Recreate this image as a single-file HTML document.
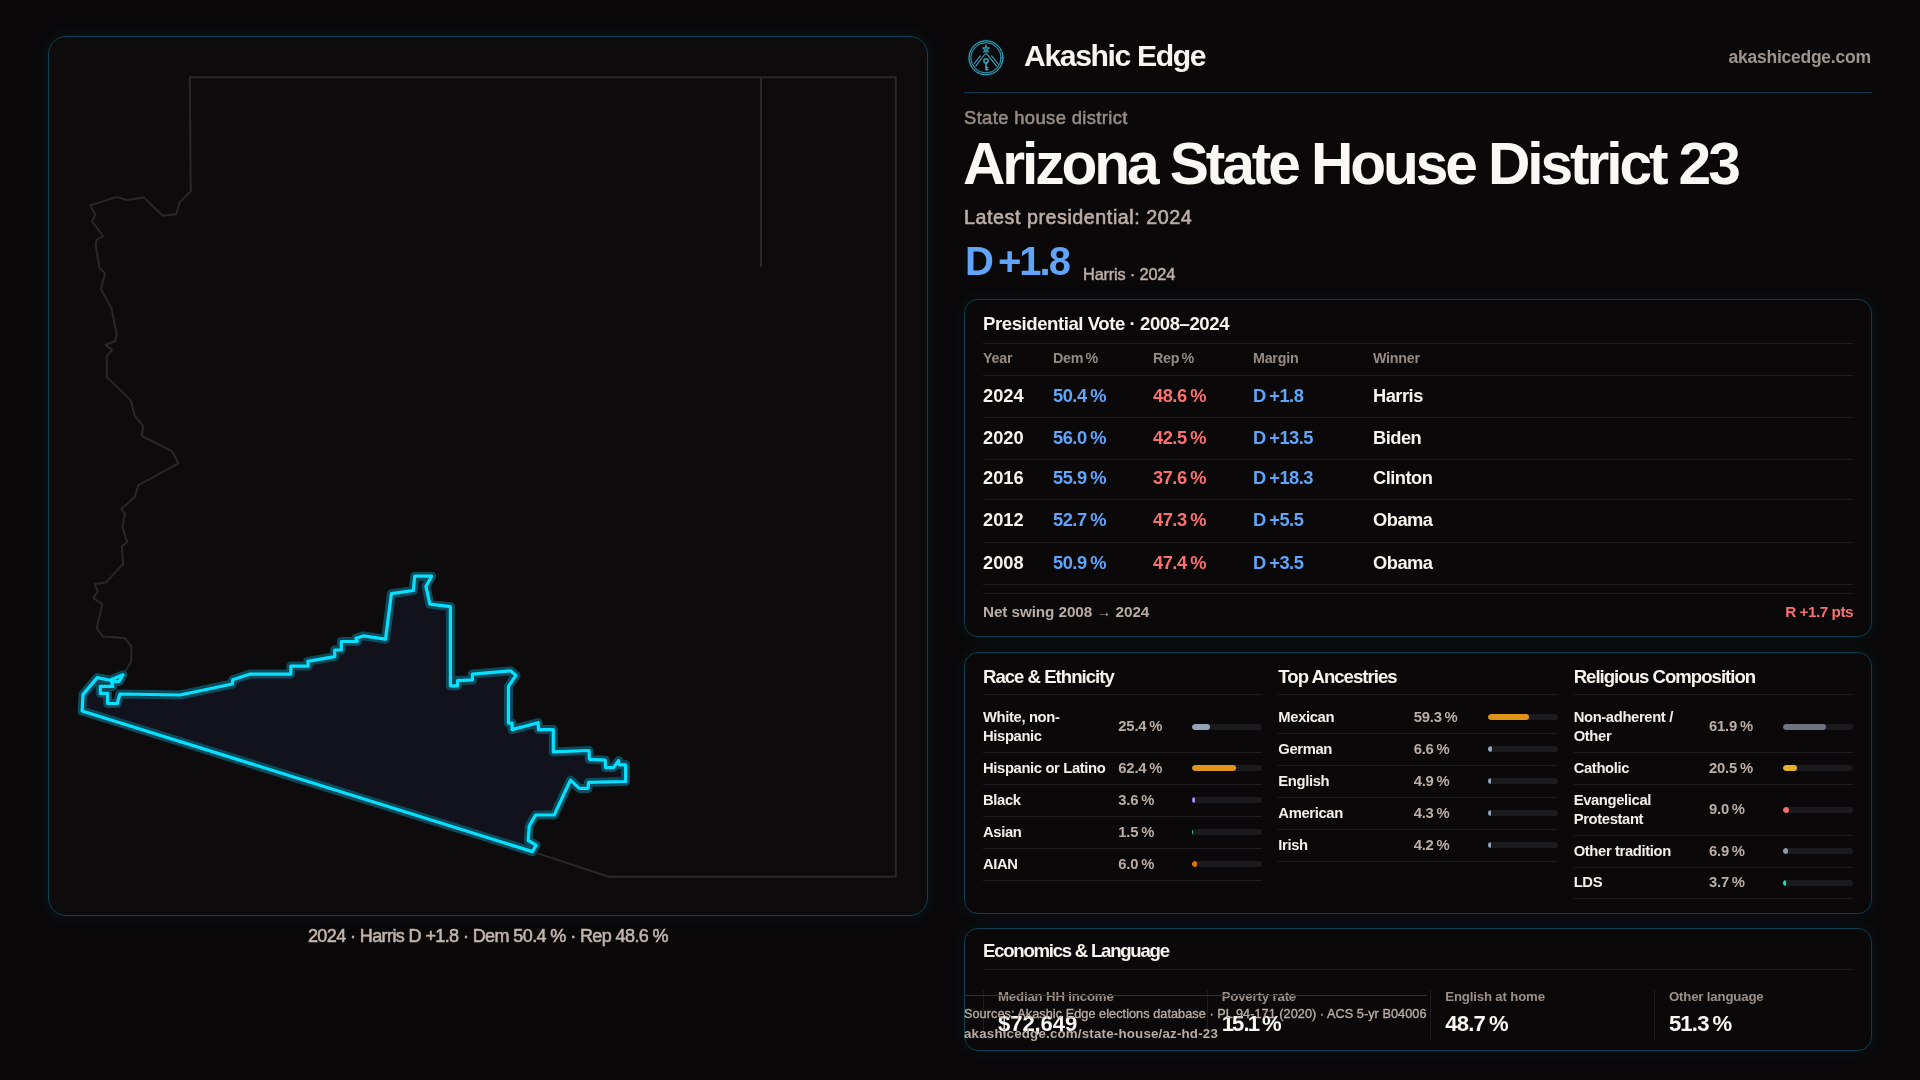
<!DOCTYPE html>
<html lang="en">
<head>
<meta charset="utf-8">
<title>Arizona State House District 23 — Akashic Edge</title>
<style>
*{box-sizing:border-box;margin:0;padding:0}
html,body{width:1920px;height:1080px;overflow:hidden;background:#0a0809}
body{position:relative;font-family:"Liberation Sans",Arial,sans-serif;color:#f5f2ee;-webkit-font-smoothing:antialiased}
.abs{position:absolute;white-space:nowrap;line-height:1}
#wrap{position:absolute;left:0;top:0;width:1920px;height:1080px;will-change:transform}
/* map panel */
#map{position:absolute;left:48px;top:36px;width:880px;height:880px;border:1px solid #0f4351;border-radius:18px;background:#0d0b0c;box-shadow:0 0 20px rgba(0,200,235,.075)}
#geo{position:absolute;left:0;top:0;width:1920px;height:1080px;overflow:visible}
#cap{left:188px;width:600px;text-align:center;top:927.4px;font-size:18px;color:#c2b5ad;letter-spacing:-.6px;-webkit-text-stroke:.55px #c2b5ad}
/* header */
#brand{left:1024px;top:40.5px;font-size:30.2px;font-weight:700;color:#f7f4f0;letter-spacing:-1.4px}
#site{right:49.3px;top:48.8px;font-size:17.5px;color:#9f948e;font-weight:700;letter-spacing:-.25px}
#hline{position:absolute;left:964px;top:92px;width:908px;height:1px;background:#0e3d49}
#kind{left:964px;top:108.5px;font-size:18.4px;color:#968b85;letter-spacing:.37px;-webkit-text-stroke:.55px #968b85}
#title{left:963px;top:134.5px;font-size:58.7px;font-weight:700;color:#faf8f5;letter-spacing:-3.1px}
#latest{left:964px;top:207.7px;font-size:19.7px;color:#bcaea6;letter-spacing:.55px;-webkit-text-stroke:.6px #bcaea6}
#margin{left:965px;top:240.8px;font-size:40px;color:#60a5fa;font-weight:700;letter-spacing:-2px;word-spacing:-3px}
#who{left:1083px;top:265.8px;font-size:16.4px;color:#bfb2aa;letter-spacing:-.2px;-webkit-text-stroke:.45px #bfb2aa}
/* cards */
.card{position:absolute;left:964px;width:908px;border:1px solid #0f3f4c;border-radius:14px;background:#0a0809;box-shadow:0 0 18px rgba(0,200,235,.075)}

/* card 1 : presidential table */
#c1{padding:0 18px}
#c1 .ttl{height:44px;border-bottom:1px solid #1d1b1d;font-size:18.6px;font-weight:700;color:#f7f4f0;line-height:20px;padding-top:14.4px;white-space:nowrap;letter-spacing:-.45px}
.trow{display:flex;border-bottom:1px solid #1d1b1d;white-space:nowrap}
.trow span{display:block}
.trow .y{width:70px}.trow .d{width:100px}.trow .r{width:100px}.trow .m{width:120px}.trow .w{flex:1}
.thead{word-spacing:-1.5px;height:32px;line-height:16px;padding-top:6.3px;font-size:14.3px;color:#968a84;font-weight:700;letter-spacing:-.25px}
.tbody{word-spacing:-1px;height:42px;font-size:18.3px;font-weight:700;color:#f7f4f0;line-height:20px;padding-top:9.8px;letter-spacing:-.5px}
.tbody .y{letter-spacing:0}
.tbody .d,.tbody .m{color:#60a5fa}
.tbody .r{color:#f87171}
#swing{display:flex;justify-content:space-between;margin-top:8px;border-top:1px solid #1d1b1d;height:43px;line-height:20px;padding-top:7.5px;font-size:15.3px;color:#b8aba4;font-weight:700;white-space:nowrap;letter-spacing:-.1px}
#swing b{color:#f87171;letter-spacing:-.5px}
/* card 2 : three columns */
#c2{padding:0 18px;display:flex;gap:16px}
.col{flex:1 1 0;min-width:0}
.col .ttl{height:42px;border-bottom:1px solid #1d1b1d;font-size:18.6px;font-weight:700;color:#f7f4f0;line-height:20px;padding-top:13.8px;margin-bottom:7px;white-space:nowrap;letter-spacing:-1px}
.brow{display:grid;grid-template-columns:1fr 66px 70px;column-gap:8px;align-items:center;border-bottom:1px solid #1d1b1d;height:32px;font-size:14.8px;line-height:19px}
.brow.two{height:51px}
.brow .l{font-weight:700;color:#f3efeb;position:relative;top:-.3px;letter-spacing:-.37px;white-space:nowrap}
.brow .v{word-spacing:-1px;color:#bbaea7;font-weight:700;white-space:nowrap;position:relative;top:-.3px;letter-spacing:-.2px}
.bar{display:block;height:6px;border-radius:3px;background:#1b1a1c;position:relative;overflow:hidden;top:-.5px}
.bar i{position:absolute;left:0;top:0;bottom:0;border-radius:3px;display:block}
/* card 3 : economics */
#c3{padding:0 18px}
#c3 .ttl{height:41px;border-bottom:1px solid #1d1b1d;font-size:18.6px;font-weight:700;color:#f7f4f0;line-height:20px;padding-top:12.1px;white-space:nowrap;letter-spacing:-1.25px}
#stats{display:flex;gap:24.5px;margin-top:19.5px}
.stat{flex:1 1 0;height:49.5px;border-left:1px solid #1d1b1d;padding-left:14px;white-space:nowrap}
.stat .k{letter-spacing:-.15px;font-size:13.2px;color:#9c9089;font-weight:700;line-height:16px;padding-top:0;position:relative;top:-.5px}
.one{margin:0 -1.1px}
.stat .n{word-spacing:-1.5px;letter-spacing:-.8px;font-size:22.1px;font-weight:700;color:#faf8f5;line-height:26px;margin-top:5.8px}
/* footer overlay */
#foot{position:absolute;left:964px;top:995px;border-top:1px solid #0e3d49;white-space:nowrap;color:#b9aca4}
#foot .s{font-size:12.7px;line-height:16px;margin-top:10.4px;-webkit-text-stroke:.35px #b9aca4;letter-spacing:.05px}
#foot .u{font-size:13.3px;line-height:18px;margin-top:2.6px;font-weight:700;letter-spacing:.2px}
#logo{position:absolute;left:960px;top:32px;width:52px;height:52px}
</style>
</head>
<body>
<div id="wrap">
<div id="map"></div>
<svg id="geo" viewBox="0 0 1920 1080">
<g fill="none" stroke-linejoin="round" stroke-linecap="round">
<path d="M532.4 851.6 L608.8 876.8 L895.8 876.8 L895.8 77.3 L189.8 77.3 L190.6 180.0 L190.9 190.9 L179.4 202.8 L176.3 214.2 L162.6 215.8 L144.2 197.6 L127.1 200.0 L116.7 196.9 L90.2 205.4 L95.2 214.5 L92.0 221.5 L103.2 236.0 L96.7 239.6 L95.7 244.8 L99.3 267.4 L105.0 273.4 L100.9 288.9 L111.5 308.4 L116.7 334.3 L115.4 341.3 L105.5 344.7 L112.0 349.9 L106.8 355.8 L106.8 377.1 L130.9 400.4 L134.8 416.0 L143.1 425.9 L141.8 436.0 L172.0 451.2 L178.4 463.3 L138.2 485.4 L134.8 497.1 L121.1 509.2 L125.0 513.9 L122.4 526.4 L127.1 541.9 L121.9 546.3 L123.2 564.0 L105.8 582.6 L94.6 583.9 L97.7 591.2 L93.3 598.2 L102.4 604.2 L96.7 628.0 L102.9 636.6 L124.5 637.9 L131.2 646.2 L131.2 661.7 L123.0 674.8" stroke="#2b2728" stroke-width="2"/>
<path d="M761 77.3 L761 266.3" stroke="#2b2728" stroke-width="2"/>
<path d="M82.1 711.0 L83.0 694.6 L97.2 677.6 L109.8 680.2 L123.0 674.8 L119.2 681.4 L111.5 682.0 L112.9 686.4 L100.3 686.4 L100.3 693.4 L107.6 693.4 L107.6 703.5 L117.3 703.5 L119.9 694.0 L180.0 695.0 L232.3 684.0 L232.7 679.8 L250.2 674.1 L290.8 674.1 L290.8 666.1 L308.3 666.1 L307.8 661.4 L334.7 656.6 L334.7 650.0 L341.3 650.0 L341.3 641.5 L357.4 641.5 L356.0 638.2 L363.1 635.9 L385.5 639.2 L391.4 593.7 L413.4 590.5 L414.7 576.2 L431.6 576.2 L426.0 586.6 L429.9 604.1 L450.4 606.7 L450.4 685.8 L457.5 685.8 L457.5 680.6 L472.4 679.9 L472.4 674.1 L510.7 670.9 L515.9 675.4 L508.5 686.4 L508.4 723.1 L512.1 723.1 L512.1 729.6 L538.1 722.7 L538.5 729.6 L553.3 729.6 L553.3 751.9 L589.0 750.5 L589.4 759.3 L605.2 760.2 L605.6 767.6 L613.5 767.6 L618.6 760.6 L619.1 764.8 L625.6 764.8 L625.6 781.5 L588.5 782.4 L588.1 788.4 L579.3 788.4 L570.5 780.1 L554.2 815.0 L535.6 815.0 L529.2 826.1 L528.2 840.5 L536.1 845.1 L532.4 851.6 Z" fill="#12121c" stroke="#0b4a5a" stroke-width="9"/>
<path d="M82.1 711.0 L83.0 694.6 L97.2 677.6 L109.8 680.2 L123.0 674.8 L119.2 681.4 L111.5 682.0 L112.9 686.4 L100.3 686.4 L100.3 693.4 L107.6 693.4 L107.6 703.5 L117.3 703.5 L119.9 694.0 L180.0 695.0 L232.3 684.0 L232.7 679.8 L250.2 674.1 L290.8 674.1 L290.8 666.1 L308.3 666.1 L307.8 661.4 L334.7 656.6 L334.7 650.0 L341.3 650.0 L341.3 641.5 L357.4 641.5 L356.0 638.2 L363.1 635.9 L385.5 639.2 L391.4 593.7 L413.4 590.5 L414.7 576.2 L431.6 576.2 L426.0 586.6 L429.9 604.1 L450.4 606.7 L450.4 685.8 L457.5 685.8 L457.5 680.6 L472.4 679.9 L472.4 674.1 L510.7 670.9 L515.9 675.4 L508.5 686.4 L508.4 723.1 L512.1 723.1 L512.1 729.6 L538.1 722.7 L538.5 729.6 L553.3 729.6 L553.3 751.9 L589.0 750.5 L589.4 759.3 L605.2 760.2 L605.6 767.6 L613.5 767.6 L618.6 760.6 L619.1 764.8 L625.6 764.8 L625.6 781.5 L588.5 782.4 L588.1 788.4 L579.3 788.4 L570.5 780.1 L554.2 815.0 L535.6 815.0 L529.2 826.1 L528.2 840.5 L536.1 845.1 L532.4 851.6 Z" stroke="#08e0ff" stroke-width="3.2"/>
</g>
</svg>
<div id="cap" class="abs">2024 · Harris D +1.8 · Dem 50.4 % · Rep 48.6 %</div>

<svg id="logo" viewBox="960 32 52 52">
<defs><filter id="lg" x="-30%" y="-30%" width="160%" height="160%"><feGaussianBlur stdDeviation="1.1"/></filter></defs>
<g fill="none" stroke="#2aa6c6" stroke-width="1.6" opacity=".55" filter="url(#lg)"><circle cx="986" cy="57.8" r="16.4"/></g>
<g fill="none" stroke="#43b7d3" stroke-linecap="round" stroke-linejoin="round" opacity=".92">
<circle cx="986" cy="57.8" r="17" stroke-width="1"/>
<circle cx="986" cy="57.8" r="15.1" stroke-width=".9" stroke="#3fb4d0"/>
<path d="M985.2 53.8 L975.8 65.9 M980.4 55.8 L973.9 64" stroke-width="1.05"/>
<path d="M986.8 53.8 L996.4 65.9 M991.6 55.8 L998.3 64" stroke-width="1.05"/>
<polygon points="986.00,45.20 986.94,47.81 989.71,47.89 987.52,49.59 988.29,52.26 986.00,50.70 983.71,52.26 984.48,49.59 982.29,47.89 985.06,47.81" fill="#1f6d82" stroke-width=".9"/>
<path d="M986 51.5 L986 54" stroke-width="1"/>
<circle cx="986" cy="60.8" r="2.1" stroke-width="1.5"/>
<path d="M986 63 L986 70.6 M986 67.4 L988.3 67.4 M986 69.8 L988.3 69.8" stroke-width="1.5" stroke-linecap="butt"/>
</g>
</svg>
<div id="brand" class="abs">Akashic Edge</div>
<div id="site" class="abs">akashicedge.com</div>
<div id="hline"></div>
<div id="kind" class="abs">State house district</div>
<div id="title" class="abs">Arizona State House District 23</div>
<div id="latest" class="abs">Latest presidential: 2024</div>
<div id="margin" class="abs">D +1.8</div>
<div id="who" class="abs">Harris · 2024</div>

<div class="card" id="c1" style="top:299px;height:338px">
<div class="ttl">Presidential Vote · 2008–2024</div>
<div class="trow thead"><span class="y">Year</span><span class="d">Dem %</span><span class="r">Rep %</span><span class="m">Margin</span><span class="w">Winner</span></div>
<div class="trow tbody"><span class="y">2024</span><span class="d">50.4 %</span><span class="r">48.6 %</span><span class="m">D +1.8</span><span class="w">Harris</span></div>
<div class="trow tbody"><span class="y">2020</span><span class="d">56.0 %</span><span class="r">42.5 %</span><span class="m">D +13.5</span><span class="w">Biden</span></div>
<div class="trow tbody" style="height:40px;padding-top:8.4px"><span class="y">2016</span><span class="d">55.9 %</span><span class="r">37.6 %</span><span class="m">D +18.3</span><span class="w">Clinton</span></div>
<div class="trow tbody" style="height:43px;padding-top:9.9px"><span class="y">2012</span><span class="d">52.7 %</span><span class="r">47.3 %</span><span class="m">D +5.5</span><span class="w">Obama</span></div>
<div class="trow tbody"><span class="y">2008</span><span class="d">50.9 %</span><span class="r">47.4 %</span><span class="m">D +3.5</span><span class="w">Obama</span></div>
<div id="swing"><span>Net swing 2008 → 2024</span><b>R +1.7 pts</b></div>
</div>
<div class="card" id="c2" style="top:652px;height:262px">
<div class="col"><div class="ttl">Race &amp; Ethnicity</div>
<div class="brow two"><span class="l">White, non-<br>Hispanic</span><span class="v">25.4 %</span><span class="bar"><i style="width:25.4%;background:#94a3b8"></i></span></div>
<div class="brow"><span class="l">Hispanic or Latino</span><span class="v">62.4 %</span><span class="bar"><i style="width:62.4%;background:#e0951a"></i></span></div>
<div class="brow"><span class="l">Black</span><span class="v">3.6 %</span><span class="bar"><i style="width:3.6%;background:#a78bfa"></i></span></div>
<div class="brow"><span class="l">Asian</span><span class="v">1.5 %</span><span class="bar"><i style="width:1.5%;background:#34d399"></i></span></div>
<div class="brow"><span class="l">AIAN</span><span class="v">6.0 %</span><span class="bar"><i style="width:6.0%;background:#d97706"></i></span></div>
</div>
<div class="col"><div class="ttl">Top Ancestries</div>
<div class="brow"><span class="l">Mexican</span><span class="v">59.3 %</span><span class="bar"><i style="width:59.3%;background:#e0951a"></i></span></div>
<div class="brow"><span class="l">German</span><span class="v">6.6 %</span><span class="bar"><i style="width:6.6%;background:#94a3b8"></i></span></div>
<div class="brow"><span class="l">English</span><span class="v">4.9 %</span><span class="bar"><i style="width:4.9%;background:#94a3b8"></i></span></div>
<div class="brow"><span class="l">American</span><span class="v">4.3 %</span><span class="bar"><i style="width:4.3%;background:#94a3b8"></i></span></div>
<div class="brow"><span class="l">Irish</span><span class="v">4.2 %</span><span class="bar"><i style="width:4.2%;background:#94a3b8"></i></span></div>
</div>
<div class="col"><div class="ttl">Religious Composition</div>
<div class="brow two"><span class="l">Non-adherent /<br>Other</span><span class="v">61.9 %</span><span class="bar"><i style="width:61.9%;background:#6f7280"></i></span></div>
<div class="brow"><span class="l">Catholic</span><span class="v">20.5 %</span><span class="bar"><i style="width:20.5%;background:#e5b12d"></i></span></div>
<div class="brow two"><span class="l">Evangelical<br>Protestant</span><span class="v">9.0 %</span><span class="bar"><i style="width:9.0%;background:#f26d6d"></i></span></div>
<div class="brow"><span class="l">Other tradition</span><span class="v">6.9 %</span><span class="bar"><i style="width:6.9%;background:#8f98a8"></i></span></div>
<div class="brow" style="height:31px"><span class="l">LDS</span><span class="v">3.7 %</span><span class="bar"><i style="width:3.7%;background:#2dd4bf"></i></span></div>
</div>
</div>
<div class="card" id="c3" style="top:928px;height:123px">
<div class="ttl">Economics &amp; Language</div>
<div id="stats"><div class="stat"><div class="k">Median HH income</div><div class="n" style="letter-spacing:-.1px">$72,649</div></div><div class="stat"><div class="k">Poverty rate</div><div class="n" style="padding-left:1.1px"><span class="one">1</span>5.<span class="one">1</span> %</div></div><div class="stat"><div class="k">English at home</div><div class="n">48.7 %</div></div><div class="stat"><div class="k">Other language</div><div class="n">51.3 %</div></div></div>
</div>
<div id="foot"><div class="s">Sources: Akashic Edge elections database · PL 94-171 (2020) · ACS 5-yr B04006</div><div class="u">akashicedge.com/state-house/az-hd-23</div></div>
</div>
</body>
</html>
